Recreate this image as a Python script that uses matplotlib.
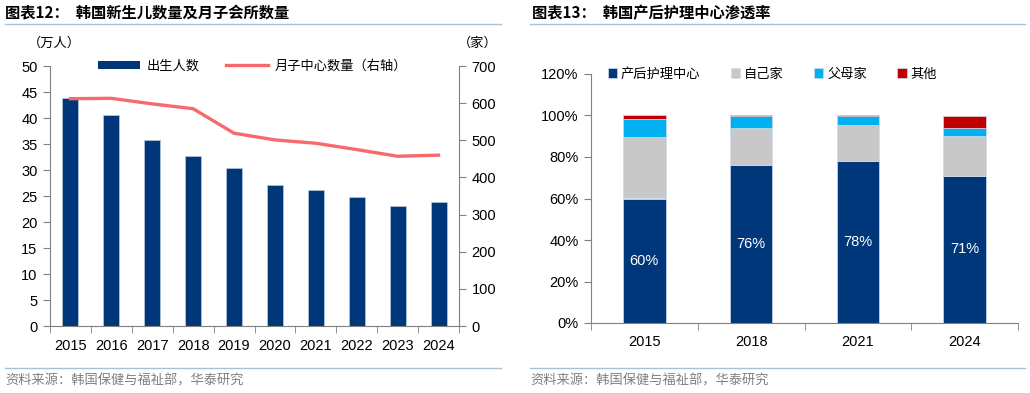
import matplotlib
matplotlib.use("Agg")
import matplotlib.pyplot as plt
from matplotlib.patches import Patch
from matplotlib.lines import Line2D
import numpy as np

plt.rcParams['font.family'] = ['Liberation Sans', 'Noto Sans CJK SC', 'DejaVu Sans']

# ---------------- data ----------------
years_left = ['2015', '2016', '2017', '2018', '2019', '2020', '2021', '2022', '2023', '2024']
births = [43.8, 40.6, 35.8, 32.7, 30.3, 27.2, 26.1, 24.9, 23.0, 23.8]          # 万人
centers = [612, 613, 598, 585, 519, 501, 492, 475, 457, 460]                     # 家

years_right = ['2015', '2018', '2021', '2024']
share_center = [60, 76, 78, 71]
share_home = [29.4, 17.8, 17.2, 19.1]
share_parents = [8.7, 6.0, 4.6, 4.0]
share_other = [1.9, 0.2, 0.2, 5.9]
center_labels = ['60%', '76%', '78%', '71%']

left_ticks = [0, 5, 10, 15, 20, 25, 30, 35, 40, 45, 50]
right_ticks = [0, 100, 200, 300, 400, 500, 600, 700]
pct_ticks = [0, 20, 40, 60, 80, 100, 120]

NAVY = '#00377A'
SALMON = '#F8696B'
GRAY = '#C8C8C8'
LBLUE = '#00B0F0'
RED = '#C00000'
SPINE = '#808080'
RULE = '#A9C0D6'

W, H = 1030, 393
fig = plt.figure(figsize=(W / 100, H / 100), dpi=100)


def px_axes(x0, y0, x1, y1):
    return fig.add_axes([x0 / W, 1 - y1 / H, (x1 - x0) / W, (y1 - y0) / H])


# titles, rules, sources
fig.text(5 / W, 1 - 13 / H, '图表12：  韩国新生儿数量及月子会所数量', fontsize=11, fontweight='bold',
         va='center', ha='left', family=['Noto Sans CJK SC'])
fig.text(532 / W, 1 - 13 / H, '图表13：  韩国产后护理中心渗透率', fontsize=11, fontweight='bold',
         va='center', ha='left', family=['Noto Sans CJK SC'])
for (a, b) in [(5, 501), (530, 1025)]:
    fig.add_artist(Line2D([a / W, b / W], [1 - 24 / H, 1 - 24 / H], color=RULE, lw=1))
    fig.add_artist(Line2D([a / W, b / W], [1 - 368 / H, 1 - 368 / H], color=RULE, lw=1))
fig.text(5 / W, 1 - 381 / H, '资料来源：韩国保健与福祉部，华泰研究', fontsize=9.5, color='#808080',
         va='center', ha='left', family=['Noto Sans CJK SC'])
fig.text(530 / W, 1 - 381 / H, '资料来源：韩国保健与福祉部，华泰研究', fontsize=9.5, color='#808080',
         va='center', ha='left', family=['Noto Sans CJK SC'])

# ---------------- left chart ----------------
ax = px_axes(50, 66, 459, 326)
x = np.arange(len(years_left))
ax.bar(x, births, width=0.39, color=NAVY, edgecolor='#B8C8DC', linewidth=0.5, zorder=2)
ax.set_xlim(-0.5, len(years_left) - 0.5)
ax.set_ylim(0, 50)
ax.set_yticks(left_ticks)
ax.set_xticks(x)
ax.set_xticklabels(years_left)
ax.set_xticks(np.arange(-0.5, len(years_left)), minor=True)
ax.tick_params(axis='x', which='major', length=0, pad=9, labelsize=10.5)
ax.tick_params(axis='x', which='minor', length=5, color=SPINE, direction='out')
ax.tick_params(axis='y', length=5, color=SPINE, labelsize=10.5, pad=4)
ax.spines['top'].set_visible(False)
ax.spines['right'].set_visible(False)
for s in ['left', 'bottom']:
    ax.spines[s].set_color(SPINE)

ax2 = ax.twinx()
ax2.plot(x, centers, color=SALMON, lw=2.4, zorder=3)
ax2.set_ylim(0, 700)
ax2.set_yticks(right_ticks)
ax2.tick_params(axis='y', length=5, color=SPINE, labelsize=10.5, pad=4)
ax2.spines['top'].set_visible(False)
ax2.spines['left'].set_visible(False)
ax2.spines['bottom'].set_visible(False)
ax2.spines['right'].set_color(SPINE)

fig.text(28 / W, 1 - 43 / H, '（万人）', fontsize=9.5, va='center', ha='left', family=['Noto Sans CJK SC'])
fig.text(458 / W, 1 - 43 / H, '（家）', fontsize=9.5, va='center', ha='left', family=['Noto Sans CJK SC'])

handles = [Patch(facecolor=NAVY, edgecolor='none'), Line2D([0], [0], color=SALMON, lw=2.4)]
leg = ax2.legend(handles, ['出生人数', '月子中心数量（右轴）'], loc='center', bbox_to_anchor=(0.495, 1.0),
                 ncol=2, frameon=False, handlelength=3.2, handleheight=0.55,
                 columnspacing=2.0, handletextpad=0.5, prop={'family': ['Noto Sans CJK SC'], 'size': 9.5})

# ---------------- right chart ----------------
bx = px_axes(591, 74, 1018, 323)
xr = np.arange(len(years_right))
bw = 0.4
b0 = np.zeros(len(years_right))
series = [(share_center, NAVY, '产后护理中心'), (share_home, GRAY, '自己家'),
          (share_parents, LBLUE, '父母家'), (share_other, RED, '其他')]
for vals, col, lab in series:
    bx.bar(xr, vals, width=bw, bottom=b0, color=col, edgecolor='#D0DCEA', linewidth=0.5, label=lab, zorder=2)
    b0 = b0 + np.array(vals)
for i, v in enumerate(share_center):
    bx.text(xr[i], v / 2, center_labels[i], color='white', ha='center', va='center', fontsize=10.5)

bx.set_xlim(-0.5, len(years_right) - 0.5)
bx.set_ylim(0, 120)
bx.set_yticks(pct_ticks)
bx.set_yticklabels([f'{t}%' for t in pct_ticks])
bx.set_xticks(xr)
bx.set_xticklabels(years_right)
bx.set_xticks(np.arange(-0.5, len(years_right)), minor=True)
bx.tick_params(axis='x', which='major', length=0, pad=9, labelsize=10.5)
bx.tick_params(axis='x', which='minor', length=5, color=SPINE, direction='out')
bx.tick_params(axis='y', length=5, color=SPINE, labelsize=10.5, pad=4)
bx.spines['top'].set_visible(False)
bx.spines['right'].set_visible(False)
for s in ['left', 'bottom']:
    bx.spines[s].set_color(SPINE)

bx.legend(loc='center', bbox_to_anchor=(0.425, 1.0), ncol=4, frameon=False,
          handlelength=0.7, handleheight=0.7, handletextpad=0.3, columnspacing=2.3,
          prop={'family': ['Noto Sans CJK SC'], 'size': 9.5})

fig.savefig('out.png', dpi=100)
